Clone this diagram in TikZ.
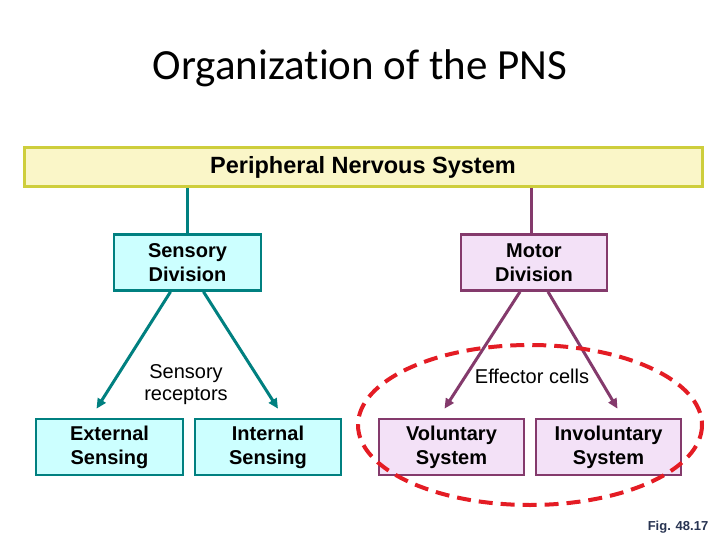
\documentclass[tikz,border=0pt]{standalone}
\usepackage{fontspec}
\setmainfont{Liberation Sans}
\newfontfamily\titlefont[Ligatures={NoCommon}]{Carlito}
\usetikzlibrary{arrows.meta,calc}
\definecolor{pnsfill}{RGB}{250,246,200}
\definecolor{pnsedge}{RGB}{206,206,60}
\definecolor{sensefill}{RGB}{204,255,255}
\definecolor{senseedge}{RGB}{0,128,128}
\definecolor{motorfill}{RGB}{243,225,247}
\definecolor{motoredge}{RGB}{132,58,108}
\definecolor{ringred}{RGB}{228,28,36}
\definecolor{figblue}{RGB}{40,52,82}

\tikzset{
  boxtext/.style={font=\fontsize{20}{24}\selectfont\bfseries, align=center, inner sep=0pt},
  sensebox/.style={boxtext, draw=senseedge, fill=sensefill, line width=2.6pt, minimum height=56pt},
  motorbox/.style={boxtext, draw=motoredge, fill=motorfill, line width=2.6pt, minimum height=56pt},
  senseline/.style={draw=senseedge, line width=3pt},
  motorline/.style={draw=motoredge, line width=3pt},
  tiparrow/.style={-{Triangle[length=10pt,width=9pt]}},
  leglabel/.style={font=\fontsize{20}{22}\selectfont, align=center, inner sep=0pt}
}

\begin{document}
\begin{tikzpicture}[x=1pt, y=-1pt]
    \fill[white] (0,0) rectangle (720,540);
    \useasboundingbox (0,0) rectangle (720,540);

    % title and top bar
    \node[font=\titlefont\fontsize{43}{46}\selectfont] (title) at (360,68) {Organization of the PNS};
    \node[draw=pnsedge, fill=pnsfill, line width=3pt, minimum width=678pt, minimum height=39pt,
          font=\fontsize{23.5}{26}\selectfont\bfseries, inner sep=0pt] (pns) at (363,167.5) {Peripheral Nervous System};

    % divisions
    \node[sensebox, minimum width=147pt] (sensory) at (187.5,262.5) {Sensory\\Division};
    \node[motorbox, minimum width=146pt] (motor) at (534,262.5) {Motor\\Division};

    % lower boxes
    \node[sensebox, minimum width=147pt] (external) at (109.5,447) {External\\Sensing};
    \node[sensebox, minimum width=146pt] (internal) at (268,447) {Internal\\Sensing};
    \node[motorbox, minimum width=145pt] (voluntary) at (451.5,447) {Voluntary\\System};
    \node[motorbox, minimum width=145pt] (involuntary) at (608.5,447) {Involuntary\\System};

    % connectors
    \draw[senseline] (pns.south -| sensory.north) -- (sensory.north);
    \draw[motorline] ($(pns.south -| motor.north)+(-3,0)$) -- ($(motor.north)+(-3,0)$);
    \draw[senseline, tiparrow] ($(sensory.south)+(-17,0)$) -- ($(external.north)+(-13,-9)$);
    \draw[senseline, tiparrow] ($(sensory.south)+(16,0)$) -- ($(internal.north)+(10,-9)$);
    \draw[motorline, tiparrow] ($(motor.south)+(-14,0)$) -- ($(voluntary.north)+(-7,-9)$);
    \draw[motorline, tiparrow] ($(motor.south)+(14,0)$) -- ($(involuntary.north)+(9,-9)$);

    \node[leglabel] (receptors) at (186,385) {Sensory\\receptors};
    \node[leglabel] (effectors) at (532,376) {Effector cells};

    % ring round the motor side
    \draw[ringred, line width=4pt, dash pattern=on 14pt off 8pt] (530,425) ellipse [x radius=172, y radius=80];

    \node[font=\fontsize{13}{15}\selectfont\bfseries, text=figblue] (fig) at (678,527) {Fig. 48.17};
  \end{tikzpicture}
\end{document}
